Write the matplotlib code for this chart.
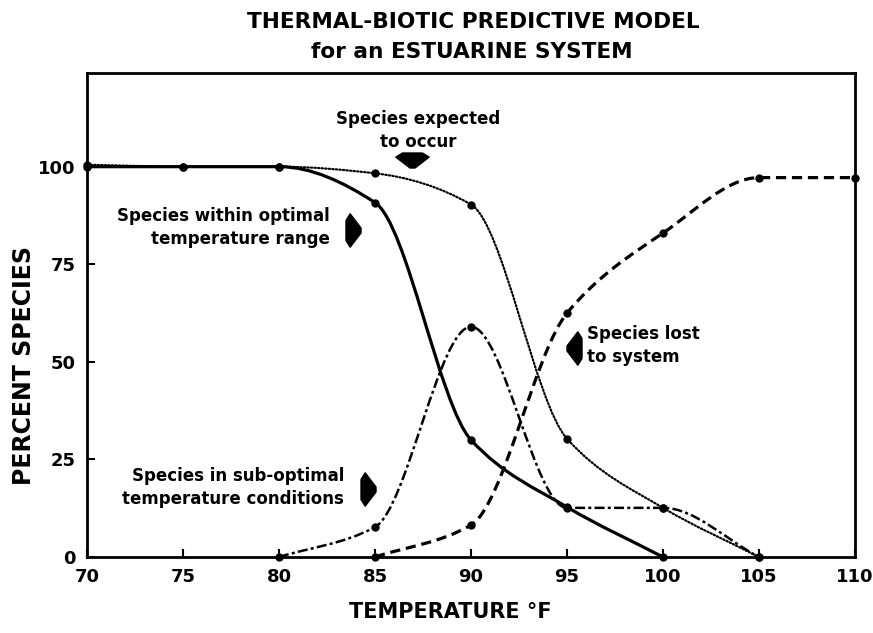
import numpy as np
import matplotlib
matplotlib.use("Agg")
import matplotlib.pyplot as plt
from matplotlib.path import Path
from matplotlib.patches import PathPatch

# values (percent of species at each temperature, deg F)
temp_optimal = [70, 75, 80, 85, 90, 95, 100]
pct_optimal = [100, 100, 100, 90.8, 30, 12.8, 0]

temp_expected = [70, 75, 80, 85, 90, 95, 100, 105]
pct_expected = [100.5, 100, 100, 98.3, 90.3, 30.3, 12.6, 0]

temp_suboptimal = [80, 85, 90, 95, 100, 105]
pct_suboptimal = [0, 7.7, 59, 12.6, 12.6, 0]

temp_lost = [85, 90, 95, 100, 105, 110]
pct_lost = [0, 8.2, 62.5, 83, 97.2, 97.2]

x_ticks = [70, 75, 80, 85, 90, 95, 100, 105, 110]
y_ticks = [0, 25, 50, 75, 100]


def smooth_path(x, y):
    # monotone cubic through the points, drawn as bezier segments
    x = np.asarray(x, float)
    y = np.asarray(y, float)
    h = np.diff(x)
    d = np.diff(y) / h
    m = np.zeros_like(y)
    m[0] = d[0]
    m[-1] = d[-1]
    for i in range(1, len(x) - 1):
        if d[i - 1] * d[i] > 0:
            m[i] = 2 / (1 / d[i - 1] + 1 / d[i])
    verts = [(x[0], y[0])]
    codes = [Path.MOVETO]
    for i in range(len(h)):
        verts += [(x[i] + h[i] / 3, y[i] + m[i] * h[i] / 3),
                  (x[i + 1] - h[i] / 3, y[i + 1] - m[i + 1] * h[i] / 3),
                  (x[i + 1], y[i + 1])]
        codes += [Path.CURVE4] * 3
    return Path(verts, codes)


plt.rcParams['font.family'] = ['DejaVu Sans']
plt.rcParams['font.weight'] = 'bold'

fig = plt.figure(figsize=(8.73, 6.33), dpi=100)
ax = fig.add_axes([0.0997, 0.120, 0.8797, 0.7647])

series = [
    (temp_expected, pct_expected, dict(lw=1.6, linestyle=(0, (0.6, 1.0)), capstyle='round')),
    (temp_optimal, pct_optimal, dict(lw=2.3, linestyle='-')),
    (temp_suboptimal, pct_suboptimal, dict(lw=1.8, linestyle=(0, (4, 1.3, 1.2, 1.3)))),
    (temp_lost, pct_lost, dict(lw=2.3, linestyle=(0, (3.2, 1.8)))),
]
for xs, ys, style in series:
    patch = PathPatch(smooth_path(xs, ys), facecolor='none', edgecolor='black',
                      clip_on=False, **style)
    ax.add_patch(patch)
    ax.plot(xs, ys, 'o', color='black', ms=5, clip_on=False, zorder=3)

ax.set_xlim(70, 110)
ax.set_ylim(0, 124)
ax.set_xticks(x_ticks)
ax.set_yticks(y_ticks)
ax.tick_params(direction='in', length=6, width=1.5, labelsize=13, pad=8)
for lab in ax.get_xticklabels() + ax.get_yticklabels():
    lab.set_fontweight('bold')
for sp in ax.spines.values():
    sp.set_linewidth(2)

# annotations with block arrows
def block_arrow(x, y, angle):
    verts = np.array([(-0.45, 0.6), (-0.2, 1.0), (0.45, 0.15), (0.45, -0.15),
                      (-0.2, -1.0), (-0.45, -0.6), (-0.45, 0.6)])
    a = np.deg2rad(angle)
    rot = np.array([[np.cos(a), -np.sin(a)], [np.sin(a), np.cos(a)]])
    verts = verts @ rot.T
    ax.plot(x, y, marker=verts, color='black', ms=24, zorder=4)

txt = dict(fontsize=12, fontweight='bold', linespacing=1.35)
ax.text(87.24, 109.2, "Species expected\nto occur", ha='center', va='center', **txt)
block_arrow(86.93, 101.6, -90)
ax.text(82.66, 84.4, "Species within optimal\ntemperature range", ha='right', va='center',
        multialignment='right', **txt)
block_arrow(83.85, 83.8, 0)
ax.text(83.4, 17.9, "Species in sub-optimal\ntemperature conditions", ha='right', va='center',
        multialignment='right', **txt)
block_arrow(84.64, 17.4, 0)
ax.text(96.04, 54.1, "Species lost\nto system", ha='left', va='center', **txt)
block_arrow(95.36, 53.6, 180)

fig.text(0.542, 0.965, "THERMAL-BIOTIC PREDICTIVE MODEL", ha='center', va='center',
         fontsize=15.6, fontweight='bold')
fig.text(0.540, 0.918, "for an ESTUARINE SYSTEM", ha='center', va='center',
         fontsize=15.6, fontweight='bold')
fig.text(0.516, 0.033, "TEMPERATURE °F", ha='center', va='center',
         fontsize=15, fontweight='bold')
fig.text(0.0275, 0.423, "PERCENT SPECIES", ha='center', va='center', rotation=90,
         fontsize=17, fontweight='bold')

fig.savefig("out.png", dpi=100)
